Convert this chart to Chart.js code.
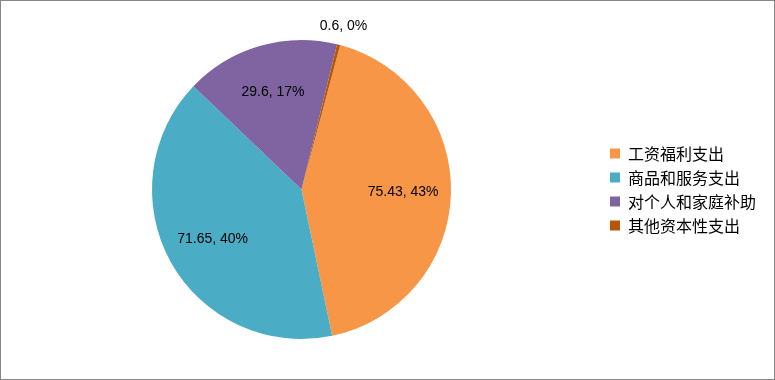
<!DOCTYPE html>
<html>
<head>
<meta charset="utf-8">
<script src="https://cdn.jsdelivr.net/npm/chart.js@4/dist/chart.umd.min.js"></script>
<style>
  html, body { margin: 0; padding: 0; background: #fff; }
  #box { width: 775px; height: 380px; box-sizing: border-box; border: 1px solid #868686; position: relative; }
</style>
</head>
<body>
<div id="box"><canvas id="pieChart"></canvas></div>
<script>
const categories = ['工资福利支出', '商品和服务支出', '对个人和家庭补助', '其他资本性支出'];
const amounts = [75.43, 71.65, 29.6, 0.6];
const colors = ['#F79646', '#4BACC6', '#8064A2', '#B65708'];

// draws "value, percent%" on each slice, tiny slices get their label outside
const sliceLabels = {
  id: 'sliceLabels',
  afterDatasetsDraw(chart) {
    const ctx = chart.ctx;
    const meta = chart.getDatasetMeta(0);
    const total = amounts.reduce((a, b) => a + b, 0);
    ctx.save();
    ctx.font = '14px "Liberation Sans", Arial, sans-serif';
    ctx.fillStyle = '#000';
    ctx.textAlign = 'center';
    ctx.textBaseline = 'middle';
    meta.data.forEach((arc, i) => {
      const pct = amounts[i] / total * 100;
      const mid = (arc.startAngle + arc.endAngle) / 2;
      const r = arc.outerRadius * (pct < 2 ? 1.13 : 0.68);
      const x = arc.x + Math.cos(mid) * r;
      const y = arc.y + Math.sin(mid) * r;
      ctx.fillText(amounts[i] + ', ' + Math.round(pct) + '%', x, y);
    });
    ctx.restore();
  }
};

const ctx = document.getElementById('pieChart').getContext('2d');
new Chart(ctx, {
  type: 'pie',
  data: {
    labels: categories,
    datasets: [{
      data: amounts,
      backgroundColor: colors,
      borderWidth: 0
    }]
  },
  options: {
    responsive: true,
    maintainAspectRatio: false,
    animation: false,
    rotation: 15,
    layout: {
      padding: { top: 39, bottom: 40, left: 0, right: 8 }
    },
    plugins: {
      legend: {
        position: 'right',
        labels: {
          boxWidth: 10,
          boxHeight: 10,
          padding: 8,
          color: '#000',
          font: { family: '"Noto Sans CJK SC", sans-serif', size: 16 }
        }
      },
      tooltip: { enabled: false }
    }
  },
  plugins: [sliceLabels]
});
</script>
</body>
</html>
